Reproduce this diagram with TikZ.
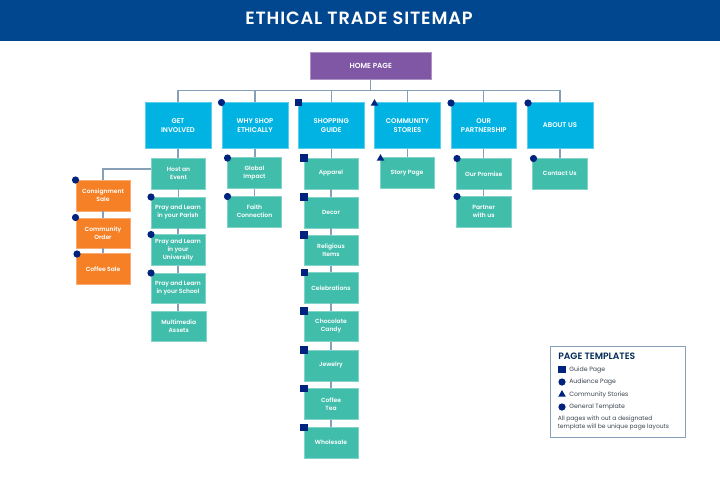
\documentclass[tikz,border=0pt]{standalone}
\usepackage{fontspec}
\setmainfont{Poppins}[BoldFont={Poppins SemiBold}]
\usetikzlibrary{shapes.geometric}
\definecolor{banner}{HTML}{00478F}
\definecolor{homec}{HTML}{7F57A5}
\definecolor{topc}{HTML}{00B3E3}
\definecolor{tealc}{HTML}{41BDAB}
\definecolor{orangec}{HTML}{F58025}
\definecolor{mark}{HTML}{00237F}
\definecolor{linkc}{HTML}{87A0B8}
\definecolor{legtext}{HTML}{3A4450}
\newcommand\boxtext{\bfseries\fontsize{5.15}{6.2}\selectfont}
\newcommand\subtext{\bfseries\fontsize{4.5}{6.0}\selectfont}
\tikzset{
  x=0.75pt,y=-0.75pt,
  pagebox/.style={inner sep=0pt,align=center,text=white,font=\boxtext,anchor=center},
  homebox/.style={pagebox,fill=homec,draw=homec!65!white,line width=.3pt,font=\bfseries\fontsize{5.5}{7}\selectfont},
  topbox/.style={pagebox,fill=topc,draw=topc!65!white,line width=.3pt},
  tealbox/.style={pagebox,fill=tealc,draw=tealc!65!white,line width=.3pt,font=\subtext},
  orangebox/.style={pagebox,fill=orangec,draw=orangec!65!white,line width=.3pt,font=\subtext},
  link/.style={draw=linkc,line width=0.8pt},
  mcirc/.style={circle,fill=mark,inner sep=0pt,minimum size=5.4pt},
  msq/.style={rectangle,fill=mark,inner sep=0pt,minimum size=5.4pt},
  mtri/.style={regular polygon,regular polygon sides=3,fill=mark,inner sep=0pt,minimum size=6.6pt},
  legtxt/.style={anchor=west,inner sep=0pt,text=legtext,font=\fontsize{4.65}{6}\selectfont,align=left},
}
\newcommand\bx[7]{\node[#2,minimum width={(#5-#3)*0.75pt},minimum height={(#6-#4)*0.75pt}] (#1) at ({(#3+#5)/2},{(#4+#6)/2}) {#7};}
\begin{document}
\begin{tikzpicture}
\useasboundingbox (0,0) rectangle (720,480);
\fill[white] (0,0) rectangle (720,480);
\node[fill=banner,inner sep=0pt,minimum width=540pt,minimum height=30.75pt] (banner) at (360,20.5) {};
\node[text=white,inner sep=0pt,font=\addfontfeature{LetterSpace=5}\bfseries\fontsize{13.3}{15}\selectfont] (title) at (359,18) {ETHICAL TRADE SITEMAP};
\bx{home}{homebox}{310.5}{52}{431}{79.5}{HOME PAGE}
\bx{get}{topbox}{145}{102.5}{211}{148.5}{GET\\INVOLVED}
\bx{why}{topbox}{222}{102.5}{288}{148.5}{WHY SHOP\\ETHICALLY}
\bx{shop}{topbox}{298.5}{102.5}{364}{148.5}{SHOPPING\\GUIDE}
\bx{comm}{topbox}{374.5}{102.5}{440.5}{148.5}{COMMUNITY\\STORIES}
\bx{our}{topbox}{451}{102.5}{516.5}{148.5}{OUR\\PARTNERSHIP}
\bx{about}{topbox}{527}{102.5}{593}{148.5}{ABOUT US}
\bx{host}{tealbox}{151.5}{158.5}{205.5}{189}{Host an\\Event}
\bx{parish}{tealbox}{151}{197}{205}{228}{Pray and Learn\\in your Parish}
\bx{univ}{tealbox}{151}{234.5}{205}{265.5}{Pray and Learn\\in your\\University}
\bx{school}{tealbox}{151}{273}{205}{303.5}{Pray and Learn\\in your School}
\bx{multi}{tealbox}{151.5}{311}{206}{341.5}{Multimedia\\Assets}
\bx{consign}{orangebox}{76}{180}{130}{211}{Consignment\\Sale}
\bx{corder}{orangebox}{76}{218}{130}{248}{Community\\Order}
\bx{csale}{orangebox}{76}{253.5}{130}{284.5}{Coffee Sale}
\bx{global}{tealbox}{227.5}{157.5}{281.5}{188.5}{Global\\Impact}
\bx{faith}{tealbox}{227.5}{196}{281.5}{227}{Faith\\Connection}
\bx{apparel}{tealbox}{304}{158}{358}{189}{Apparel}
\bx{decor}{tealbox}{304}{197}{358}{228}{Decor}
\bx{relig}{tealbox}{304}{235}{358}{265.5}{Religious\\Items}
\bx{celeb}{tealbox}{304}{272.5}{358}{303}{Celebrations}
\bx{choc}{tealbox}{304}{311}{358}{341.5}{Chocolate\\Candy}
\bx{jewel}{tealbox}{304}{350}{358}{381}{Jewelry}
\bx{coffee}{tealbox}{304}{388}{358}{419.5}{Coffee\\Tea}
\bx{whole}{tealbox}{304}{427}{358}{458}{Wholesale}
\bx{story}{tealbox}{380}{157.5}{434}{188.5}{Story Page}
\bx{promise}{tealbox}{456.5}{158.5}{511}{189}{Our Promise}
\bx{partner}{tealbox}{456.5}{196}{511}{227}{Partner\\with us}
\bx{contact}{tealbox}{532.5}{158.5}{587}{189}{Contact Us}
% connectors
\coordinate (bar) at (369.5,90.5);
\draw[link] (home.south) -- (home.south |- bar);
\foreach \n in {get,why,shop,comm,our,about}{\draw[link] (\n.north) |- (bar);}
\foreach \a/\b in {get/host,host/parish,parish/univ,univ/school,school/multi,
  consign/corder,corder/csale,why/global,global/faith,
  shop/apparel,apparel/decor,decor/relig,relig/celeb,celeb/choc,choc/jewel,jewel/coffee,coffee/whole,
  comm/story,our/promise,promise/partner,about/contact}{\draw[link] (\a.south) -- (\a.south |- \b.north);}
\draw[link] (host.west |- 0,169) -| (consign.north);
% markers
\foreach \nm/\x/\y in {mwhy/221.5/102.5,mour/451/103,mabout/528/103,mparish/151/197,muniv/151/234.5,mschool/151/273,
  mconsign/75.5/180,mcorder/75.5/217.5,mcsale/77/254,mglobal/227.5/158,mfaith/227.5/196.5,
  mpromise/457/158.5,mpartner/457/196.5,mcontact/533.5/158.5}{\node[mcirc] (\nm) at (\x,\y) {};}
\foreach \nm/\x/\y in {mshop/298.5/102.5,mapp/304/158,mdec/304/197,mrel/304/235,mcel/304.5/272.5,mcho/304/311,mjew/304/350,mcof/304/388.5,mwho/304/427.5}{\node[msq] (\nm) at (\x,\y) {};}
\node[mtri] (mcomm) at (374.5,103.5) {};
\node[mtri] (mstory) at (380.5,158.5) {};
% legend
\node[draw=linkc,fill=white,line width=.6pt,inner sep=0pt,minimum width=100.9pt,minimum height=67.9pt] (legend) at (617.75,391.75) {};
\node[anchor=west,inner sep=0pt,text=banner!60!black,font=\bfseries\fontsize{6.9}{8}\selectfont] (legtitle) at (558,356) {PAGE TEMPLATES};
\node[msq] (lg1) at (562,369.5) {};
\node[mcirc] (lg2) at (562,382) {};
\node[mtri] (lg3) at (562,394.5) {};
\node[mcirc] (lg4) at (562,407) {};
\node[legtxt] (lt1) at (569,369.5) {Guide Page};
\node[legtxt] (lt2) at (569,382) {Audience Page};
\node[legtxt] (lt3) at (569,394.5) {Community Stories};
\node[legtxt] (lt4) at (569,407) {General Template};
\node[legtxt,font=\fontsize{4.5}{6}\selectfont] (lt5) at (557.5,423) {All pages with out a designated\\template will be unique page layouts};
\end{tikzpicture}
\end{document}
